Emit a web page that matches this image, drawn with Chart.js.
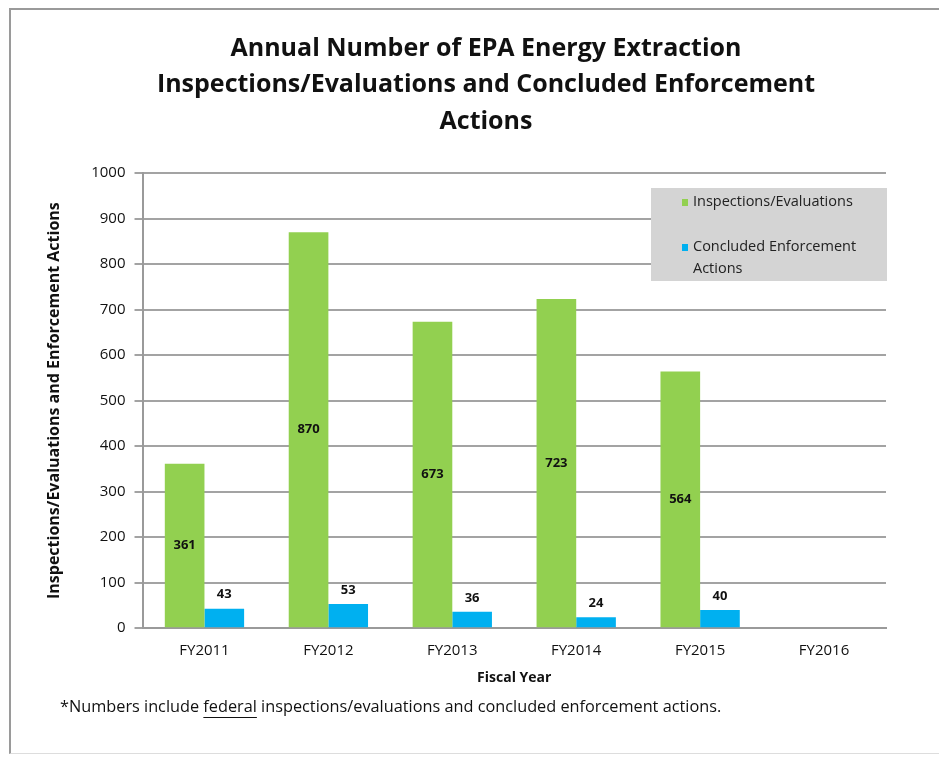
<!DOCTYPE html>
<html>
<head>
<meta charset="utf-8">
<script src="https://cdn.jsdelivr.net/npm/chart.js@4.4.1/dist/chart.umd.min.js"></script>
<style>
  html, body { margin: 0; padding: 0; background: #fff; }
  #wrap { position: relative; width: 939px; height: 760px; }
  #frame { position: absolute; left: 9px; top: 8px; width: 940px; height: 746px;
           border-left: 2px solid #9a9a9a; border-top: 2px solid #9a9a9a; border-bottom: 1px solid #dddddd; box-sizing: border-box; }
  canvas { position: absolute; left: 0; top: 0; }
</style>
</head>
<body>
<div id="wrap">
  <div id="frame"></div>
  <canvas id="epaChart" width="939" height="760"></canvas>
</div>
<script>
var years = ["FY2011", "FY2012", "FY2013", "FY2014", "FY2015", "FY2016"];
var inspections = [361, 870, 673, 723, 564, null];
var enforcement = [43, 53, 36, 24, 40, null];
var yTicks = [0, 100, 200, 300, 400, 500, 600, 700, 800, 900, 1000];
var titleLines = ["Annual Number of EPA Energy Extraction",
                  "Inspections/Evaluations and Concluded Enforcement",
                  "Actions"];

var FONT = "'Open Sans', 'Noto Sans', sans-serif";
var GREEN = "#92d050";
var BLUE = "#00b0f0";

// value labels: green ones centered in the bar, blue ones above
var barLabels = {
  id: "barLabels",
  afterDatasetsDraw: function(chart) {
    var ctx = chart.ctx;
    ctx.save();
    ctx.font = "bold 13px " + FONT;
    ctx.fillStyle = "#111";
    ctx.textAlign = "center";
    ctx.textBaseline = "middle";
    chart.data.datasets.forEach(function(ds, di) {
      var meta = chart.getDatasetMeta(di);
      meta.data.forEach(function(bar, i) {
        var v = ds.data[i];
        if (v === null || v === undefined) return;
        if (di === 0) {
          ctx.fillText(v, bar.x, (bar.y + bar.base) / 2);
        } else {
          ctx.fillText(v, bar.x, bar.y - 14);
        }
      });
    });
    ctx.restore();
  }
};

// title, grey legend box inside plot, footnote
var extras = {
  id: "extras",
  afterDraw: function(chart) {
    var ctx = chart.ctx;
    var a = chart.chartArea;
    ctx.save();

    ctx.font = "bold 25px " + FONT;
    ctx.fillStyle = "#111";
    ctx.textAlign = "center";
    ctx.textBaseline = "middle";
    var ty = [49, 85, 122];
    titleLines.forEach(function(t, i) { ctx.fillText(t, 486, ty[i]); });

    var bx = a.right - 235, by = a.top + 15, bw = 236, bh = 93;
    ctx.fillStyle = "#d4d4d4";
    ctx.fillRect(bx, by, bw, bh);
    ctx.font = "14.5px " + FONT;
    ctx.textAlign = "left";
    var ds = chart.data.datasets;
    ctx.fillStyle = ds[0].backgroundColor;
    ctx.fillRect(bx + 31, by + 11, 6, 7);
    ctx.fillStyle = "#222";
    ctx.fillText(ds[0].label, bx + 42, by + 14);
    ctx.fillStyle = ds[1].backgroundColor;
    ctx.fillRect(bx + 31, by + 56, 6, 7);
    ctx.fillStyle = "#222";
    ctx.fillText("Concluded Enforcement", bx + 42, by + 59);
    ctx.fillText("Actions", bx + 42, by + 81);

    // footnote
    ctx.font = "16.3px " + FONT;
    ctx.fillStyle = "#111";
    var fy = 707;
    var parts = ["*Numbers include ", "federal", " inspections/evaluations and concluded enforcement actions."];
    var x = 60;
    parts.forEach(function(p, i) {
      ctx.fillText(p, x, fy);
      var w = ctx.measureText(p).width;
      if (i === 1) {
        ctx.fillRect(x, fy + 10, w, 1);
      }
      x += w;
    });
    ctx.restore();
  }
};

new Chart(document.getElementById("epaChart").getContext("2d"), {
  type: "bar",
  data: {
    labels: years,
    datasets: [
      { label: "Inspections/Evaluations", data: inspections, backgroundColor: GREEN,
        barPercentage: 1.0, categoryPercentage: 0.64 },
      { label: "Concluded Enforcement Actions", data: enforcement, backgroundColor: BLUE,
        barPercentage: 1.0, categoryPercentage: 0.64 }
    ]
  },
  options: {
    responsive: false,
    animation: false,
    layout: { padding: { left: 39, right: 53, top: 173, bottom: 74 } },
    plugins: {
      legend: { display: false },
      tooltip: { enabled: false },
      title: { display: false }
    },
    scales: {
      x: {
        grid: { display: false, drawTicks: false },
        border: { display: true, color: "#9a9a9a", width: 2 },
        ticks: { color: "#111", font: { family: FONT, size: 15 }, padding: 14 },
        title: { display: true, text: "Fiscal Year", color: "#111",
                 font: { family: FONT, size: 14, weight: "bold" }, padding: { top: -5, bottom: 0 } }
      },
      y: {
        min: 0, max: 1000,
        afterBuildTicks: function(scale) {
          scale.ticks = yTicks.map(function(v) { return { value: v }; });
        },
        grid: { color: "#a3a3a3", lineWidth: 2, tickLength: 8, drawTicks: true },
        border: { display: true, color: "#9a9a9a", width: 2 },
        ticks: { color: "#111", font: { family: FONT, size: 15 }, padding: 9,
                 callback: function(v) { return String(v); } },
        title: { display: true, text: "Inspections/Evaluations and Enforcement Actions", color: "#111",
                 font: { family: FONT, size: 16, weight: "bold" }, padding: { top: 6, bottom: 18 } }
      }
    }
  },
  plugins: [barLabels, extras]
});
</script>
</body>
</html>
